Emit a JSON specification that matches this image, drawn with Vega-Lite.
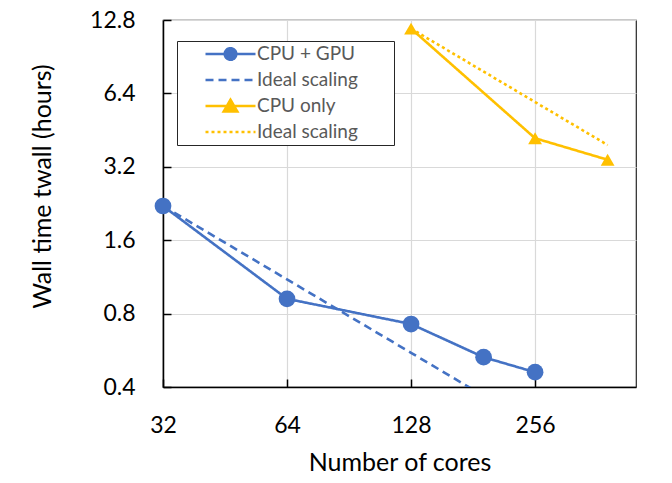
{
  "$schema": "https://vega.github.io/schema/vega-lite/v6.json",
  "autosize": "none",
  "padding": {"left": 163, "top": 20, "right": 36, "bottom": 96},
  "width": 473,
  "height": 367,
  "config": {
    "font": "Lato",
    "view": {"stroke": "#262626", "strokeWidth": 1.2},
    "axis": {
      "labelFont": "Lato",
      "titleFont": "Lato",
      "labelColor": "#000000",
      "titleColor": "#000000",
      "titleFontWeight": "normal",
      "labelFlush": false,
      "domainColor": "#000000",
      "domainWidth": 1.5,
      "tickColor": "#000000",
      "tickWidth": 1.5,
      "tickSize": -8,
      "gridColor": "#D9D9D9",
      "gridWidth": 1.2
    }
  },
  "data": {
    "values": [
      {"series": "CPU + GPU", "cores": 32, "hours": 2.21},
      {"series": "CPU + GPU", "cores": 64, "hours": 0.92},
      {"series": "CPU + GPU", "cores": 128, "hours": 0.725},
      {"series": "CPU + GPU", "cores": 192, "hours": 0.53},
      {"series": "CPU + GPU", "cores": 256, "hours": 0.46},
      {"series": "Ideal scaling (GPU)", "cores": 32, "hours": 2.21},
      {"series": "Ideal scaling (GPU)", "cores": 64, "hours": 1.105},
      {"series": "Ideal scaling (GPU)", "cores": 128, "hours": 0.5525},
      {"series": "Ideal scaling (GPU)", "cores": 192, "hours": 0.368},
      {"series": "CPU only", "cores": 128, "hours": 11.8},
      {"series": "CPU only", "cores": 256, "hours": 4.19},
      {"series": "CPU only", "cores": 384, "hours": 3.42},
      {"series": "Ideal scaling (CPU)", "cores": 128, "hours": 11.8},
      {"series": "Ideal scaling (CPU)", "cores": 256, "hours": 5.9},
      {"series": "Ideal scaling (CPU)", "cores": 384, "hours": 3.93}
    ]
  },
  "encoding": {
    "x": {
      "field": "cores",
      "type": "quantitative",
      "scale": {"type": "log", "base": 2, "domain": [32, 450], "nice": false},
      "axis": {
        "values": [32, 64, 128, 256],
        "format": "d",
        "title": "Number of cores",
        "labelFontSize": 23,
        "labelPadding": 35,
        "titleFontSize": 25,
        "titleY": 83,
        "titleBaseline": "alphabetic"
      }
    },
    "y": {
      "field": "hours",
      "type": "quantitative",
      "scale": {"type": "log", "base": 2, "domain": [0.4, 12.8], "nice": false},
      "axis": {
        "values": [0.4, 0.8, 1.6, 3.2, 6.4, 12.8],
        "format": ".1f",
        "title": "Wall time twall (hours)",
        "labelFontSize": 23,
        "labelPadding": 36,
        "titleFontSize": 25,
        "titleX": -113,
        "titleY": 166,
        "titleAngle": -90,
        "titleAlign": "center",
        "titleBaseline": "alphabetic"
      }
    }
  },
  "layer": [
    {
      "mark": {"type": "line", "strokeWidth": 2.6, "clip": true},
      "encoding": {
        "color": {
          "field": "series",
          "type": "nominal",
          "scale": {
            "domain": ["CPU + GPU", "Ideal scaling (GPU)", "CPU only", "Ideal scaling (CPU)"],
            "range": ["#4472C4", "#4472C4", "#FFC000", "#FFC000"]
          },
          "legend": {
            "title": ".",
            "titleOrient": "right",
            "titleColor": "#FFFFFF",
            "titleFontSize": 6,
            "titlePadding": 34,
            "orient": "none",
            "legendX": 14,
            "legendY": 21,
            "padding": 0,
            "symbolOffset": 27,
            "clipHeight": 26,
            "rowPadding": 0,
            "labelOffset": 0,
            "labelFont": "Lato",
            "labelFontSize": 19,
            "labelColor": "#595959",
            "labelLimit": 400,
            "labelExpr": "indexof(datum.label, 'Ideal') == 0 ? 'Ideal scaling' : datum.label",
            "strokeColor": "#262626",
            "fillColor": "#FFFFFF",
            "symbolStrokeWidth": 2.6,
            "encode": {
              "symbols": {
                "update": {
                  "shape": {"signal": "datum.value == 'CPU + GPU' ? 'M-1,0H1M0.23,0A0.23,0.23,0,1,1,-0.23,0A0.23,0.23,0,1,1,0.23,0Z' : datum.value == 'CPU only' ? 'M-1,0H1M0,-0.25L0.27,0.22L-0.27,0.22Z' : 'M-1,0H1'"},
                  "size": {"value": 2500},
                  "fill": {"signal": "datum.value == 'CPU + GPU' ? '#4472C4' : datum.value == 'CPU only' ? '#FFC000' : 'transparent'"},
                  "strokeDash": {"signal": "datum.value == 'Ideal scaling (GPU)' ? [7, 4] : datum.value == 'Ideal scaling (CPU)' ? [2.5, 2.5] : [1, 0]"},
                  "strokeWidth": {"value": 2.6}
                }
              }
            }
          }
        },
        "strokeDash": {
          "field": "series",
          "type": "nominal",
          "scale": {
            "domain": ["CPU + GPU", "Ideal scaling (GPU)", "CPU only", "Ideal scaling (CPU)"],
            "range": [[1, 0], [8, 5], [1, 0], [3, 3]]
          },
          "legend": null
        }
      }
    },
    {
      "transform": [{"filter": "datum.series == 'CPU + GPU'"}],
      "mark": {"type": "point", "shape": "circle", "filled": true, "opacity": 1, "size": 280, "color": "#4472C4"}
    },
    {
      "transform": [{"filter": "datum.series == 'CPU only'"}],
      "mark": {"type": "point", "shape": "triangle-up", "filled": true, "opacity": 1, "size": 190, "color": "#FFC000"}
    }
  ]
}
